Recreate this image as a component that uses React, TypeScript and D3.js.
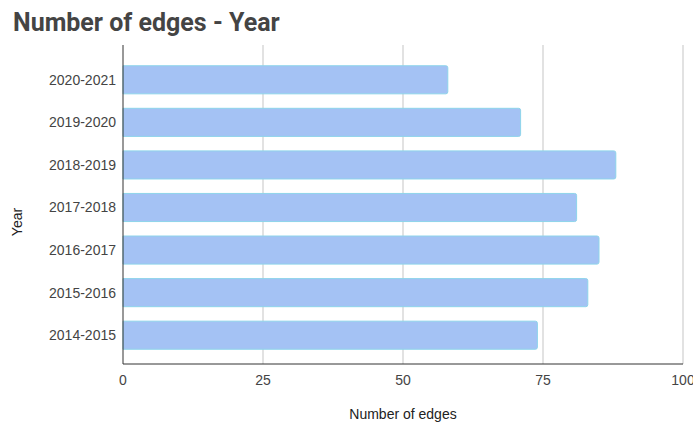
import React from "react";
import * as d3 from "d3";

const years = ["2020-2021", "2019-2020", "2018-2019", "2017-2018", "2016-2017", "2015-2016", "2014-2015"];
const edges = [58, 71, 88, 81, 85, 83, 74];
const xTicks = [0, 25, 50, 75, 100];

export default function App() {
  const W = 693, H = 425;
  const x = d3.scaleLinear().domain([0, 100]).range([123, 683]);
  const y = d3.scaleBand<string>().domain(years).range([58.5, 356.5]).paddingInner(0.34).paddingOuter(0.17);
  const top = 45, bottom = 364;
  const font = "'Liberation Sans', Arial, sans-serif";
  return (
    <svg width={W} height={H} style={{ position: "absolute", left: 0, top: 0 }} fontFamily={font}>
      <rect width={W} height={H} fill="#fff" />
      <text x={13} y={31} fontSize={25} fontWeight="bold" fill="#444" fontFamily="Roboto, Arial, sans-serif">Number of edges - Year</text>
      {xTicks.slice(1).map((t) => (
        <line key={t} x1={x(t)} x2={x(t)} y1={top} y2={bottom} stroke="#d9d9d9" strokeWidth={1.5} />
      ))}
      {years.map((yr, i) => (
        <g key={yr}>
          <path
            d={`M${x(0)},${y(yr)!} H${x(edges[i]) - 2} Q${x(edges[i])},${y(yr)!} ${x(edges[i])},${y(yr)! + 2} V${y(yr)! + y.bandwidth() - 2} Q${x(edges[i])},${y(yr)! + y.bandwidth()} ${x(edges[i]) - 2},${y(yr)! + y.bandwidth()} H${x(0)} Z`}
            fill="#a4c2f4"
            stroke="#8ed4ea"
            strokeWidth={1}
          />
          <text x={116} y={y(yr)! + y.bandwidth() / 2} dy="0.35em" textAnchor="end" fontSize={14} fill="#444">{yr}</text>
        </g>
      ))}
      <line x1={x(0)} x2={x(0)} y1={top} y2={bottom} stroke="#333" strokeWidth={1} />
      <line x1={x(0)} x2={683} y1={bottom} y2={bottom} stroke="#333" strokeWidth={1} />
      {xTicks.map((t) => (
        <text key={t} x={x(t)} y={380} dy="0.35em" textAnchor="middle" fontSize={14} fill="#444">{t}</text>
      ))}
      <text x={403} y={419} textAnchor="middle" fontSize={14} fill="#222">Number of edges</text>
      <text transform="translate(22,222) rotate(-90)" textAnchor="middle" fontSize={14} fill="#222">Year</text>
    </svg>
  );
}
